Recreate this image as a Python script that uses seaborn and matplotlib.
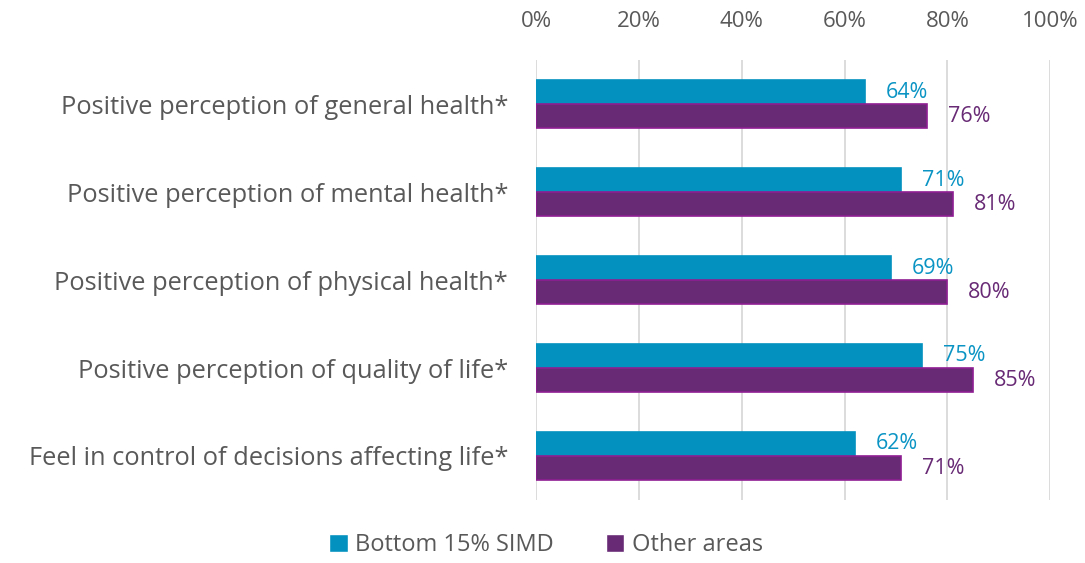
import matplotlib
matplotlib.use("Agg")
import matplotlib.pyplot as plt
import seaborn as sns
import pandas as pd

categories = [
    "Positive perception of general health*",
    "Positive perception of mental health*",
    "Positive perception of physical health*",
    "Positive perception of quality of life*",
    "Feel in control of decisions affecting life*",
]
series = ["Bottom 15% SIMD", "Other areas"]
bottom_vals = [64, 71, 69, 75, 62]
other_vals = [76, 81, 80, 85, 71]
ticks = [0, 20, 40, 60, 80, 100]

colors = {"Bottom 15% SIMD": "#0391C0", "Other areas": "#682A75"}
edges = {"Bottom 15% SIMD": "#0391C0", "Other areas": "#8E1E92"}
label_colors = {"Bottom 15% SIMD": "#0A94C4", "Other areas": "#682A75"}

df = pd.DataFrame({
    "category": categories * 2,
    "series": [series[0]] * len(categories) + [series[1]] * len(categories),
    "value": bottom_vals + other_vals,
})

sns.set_style("white")
plt.rcParams["font.family"] = ["Open Sans", "DejaVu Sans"]

fig = plt.figure(figsize=(10.85, 5.63), dpi=100)
ax = fig.add_axes([0.494, 0.112, 0.474, 0.781])

sns.barplot(data=df, x="value", y="category", hue="series", orient="h",
            palette=colors, saturation=1, width=0.55, ax=ax, legend=True)

# edge colours + data labels
for cont, s in zip(ax.containers, series):
    for bar in cont:
        bar.set_edgecolor(edges[s])
        bar.set_linewidth(1.2)
    ax.bar_label(cont, labels=[f"{v:.0f}%" for v in cont.datavalues],
                 padding=15, color=label_colors[s], fontsize=15.5)

ax.set_xlim(0, 100)
ax.set_ylim(4.5, -0.5)
ax.set_xticks(ticks)
ax.set_xticklabels([f"{t}%" for t in ticks])
ax.xaxis.tick_top()
ax.tick_params(axis="x", length=0, labelsize=16, colors="#595959", pad=20)
ax.tick_params(axis="y", length=0, labelsize=18.3, colors="#595959", pad=20)
ax.grid(axis="x", color="#D9D9D9", linewidth=1.3)
ax.set_axisbelow(True)
for sp in ax.spines.values():
    sp.set_visible(False)
ax.set_xlabel("")
ax.set_ylabel("")

handles, labels = ax.get_legend_handles_labels()
ax.legend_.remove()
fig.legend(handles, labels, loc="center", bbox_to_anchor=(0.503, 0.032), ncol=2,
           frameon=False, fontsize=17, handlelength=0.8, handleheight=0.8,
           handletextpad=0.3, columnspacing=2.2, labelcolor="#595959")

fig.savefig("out.png", dpi=100)
